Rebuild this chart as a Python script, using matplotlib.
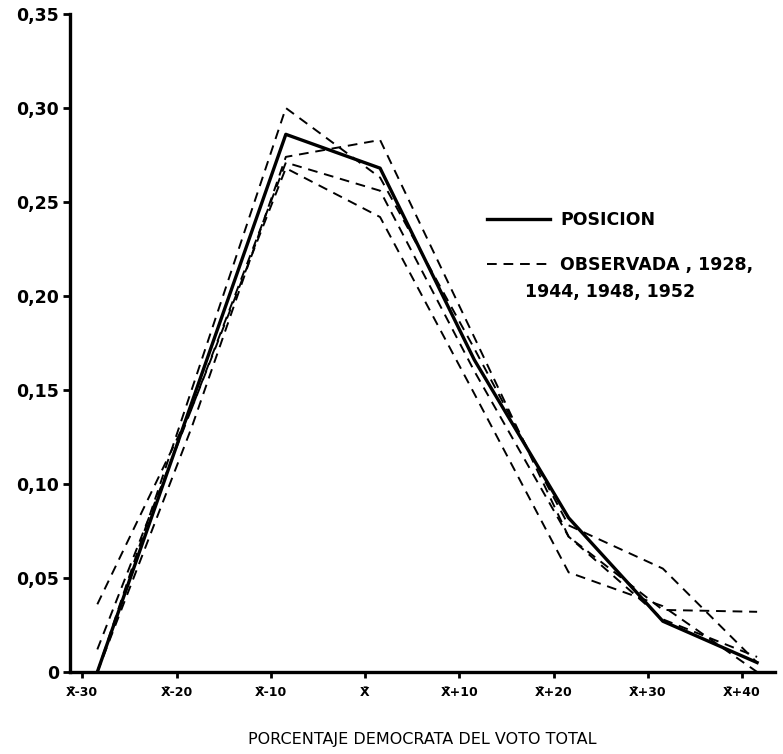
import matplotlib
matplotlib.use("Agg")
import matplotlib.pyplot as plt

# posiciones en el eje x (puntos medios, relativos a X barra)
x = [-28.4, -18.4, -8.4, 1.6, 11.6, 21.6, 31.6, 41.6]

# frecuencia teorica (linea continua)
posicion = [0.0, 0.143, 0.286, 0.268, 0.166, 0.082, 0.027, 0.005]

# frecuencias observadas (lineas discontinuas)
obs_1928 = [0.0, 0.150, 0.300, 0.263, 0.172, 0.078, 0.055, 0.005]
obs_1944 = [0.0, 0.130, 0.274, 0.283, 0.178, 0.072, 0.033, 0.032]
obs_1948 = [0.012, 0.140, 0.271, 0.256, 0.160, 0.072, 0.028, 0.008]
obs_1952 = [0.036, 0.140, 0.268, 0.242, 0.148, 0.053, 0.035, 0.0]

xticks = [-30, -20, -10, 0, 10, 20, 30, 40]
xlabels = ["X\u0304-30", "X\u0304-20", "X\u0304-10", "X\u0304",
           "X\u0304+10", "X\u0304+20", "X\u0304+30", "X\u0304+40"]
yticks = [0, 0.05, 0.10, 0.15, 0.20, 0.25, 0.30, 0.35]
ylabels = ["0", "0,05", "0,10", "0,15", "0,20", "0,25", "0,30", "0,35"]

fig = plt.figure(figsize=(7.83, 7.54), dpi=100)
ax = fig.add_axes([0.0894, 0.1088, 0.9004, 0.8726])

first = True
for serie in [obs_1928, obs_1944, obs_1948, obs_1952]:
	ax.plot(x, serie, color="black", lw=1.4, dashes=(5, 3.5),
			label="OBSERVADA , 1928," if first else None)
	first = False

ax.plot(x, posicion, color="black", lw=2.4, label="POSICION")

ax.set_xlim(-31.3, 43.5)
ax.set_ylim(0, 0.35)

ax.set_xticks(xticks)
ax.set_xticklabels(xlabels, fontsize=9, fontweight="bold")
ax.set_yticks(yticks)
ax.set_yticklabels(ylabels, fontsize=12.5, fontweight="bold")
ax.tick_params(axis="y", length=5, width=2, pad=3)
ax.tick_params(axis="x", length=4, width=2, pad=6)

for s in ["top", "right"]:
	ax.spines[s].set_visible(False)
ax.spines["left"].set_linewidth(2.4)
ax.spines["bottom"].set_linewidth(2.4)

ax.set_xlabel("PORCENTAJE DEMOCRATA DEL VOTO TOTAL", fontsize=11.5, labelpad=24)

# leyenda
h, l = ax.get_legend_handles_labels()
ax.legend(h[::-1], l[::-1], frameon=False, loc="upper left",
		  bbox_to_anchor=(0.57, 0.725), handlelength=3.6, handletextpad=0.6,
		  labelspacing=1.6, prop={"weight": "bold", "size": 12.5})
ax.text(0.645, 0.5775, "1944, 1948, 1952", transform=ax.transAxes,
		va="center", ha="left", fontsize=12.5, fontweight="bold")

fig.savefig("out.png", dpi=100)
